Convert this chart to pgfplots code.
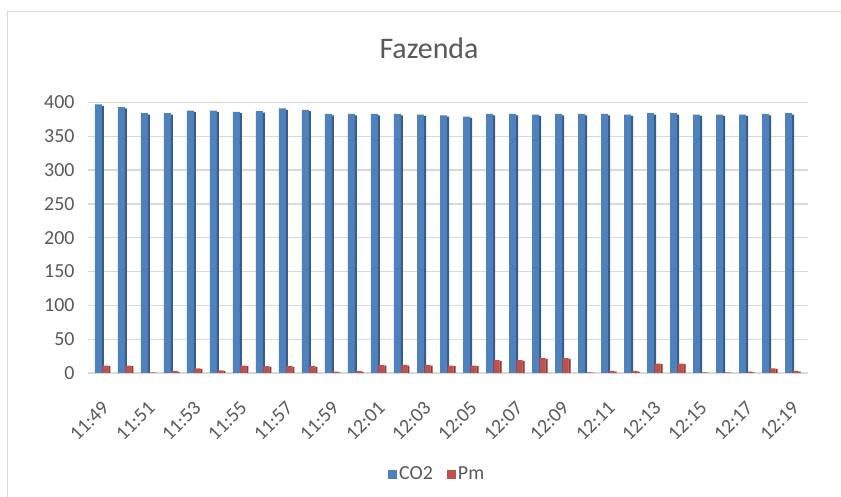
\documentclass[border=0pt]{standalone}
\usepackage{fontspec}
\setmainfont{Carlito}
\usepackage{pgfplots}
\pgfplotsset{compat=1.18}
\definecolor{cblue}{HTML}{4F81BD}
\definecolor{cblued}{HTML}{385D8A}
\definecolor{cred}{HTML}{C0504D}
\definecolor{credd}{HTML}{8C3836}
\definecolor{gridc}{HTML}{D9D9D9}
\definecolor{txt}{HTML}{595959}
\begin{document}
\begin{tikzpicture}
\useasboundingbox (0,0) rectangle (841bp,497bp);
\draw[gridc, line width=1.5bp] (7.5bp,-5bp) -- (7.5bp,485.5bp) -- (850bp,485.5bp);
\node[anchor=base, text=txt, font=\fontsize{30}{35}\selectfont] at (429bp,438.5bp) {Fazenda};
\begin{axis}[
  at={(88bp,124bp)}, anchor=south west,
  scale only axis, width=720bp, height=270.6bp,
  xmin=-0.65, xmax=30.65, ymin=0, ymax=400,
  ytick={0,50,...,400},
  xtick={0,2,...,30},
  xticklabels={11:49,11:51,11:53,11:55,11:57,11:59,12:01,12:03,12:05,12:07,12:09,12:11,12:13,12:15,12:17,12:19},
  ymajorgrids, grid style={gridc, line width=1.3bp},
  axis line style={draw=none}, tick style={draw=none},
  ticklabel style={text=txt, font=\fontsize{20}{23}\selectfont},
  /pgf/number format/assume math mode=true,
  yticklabel style={xshift=-10bp},
  xticklabel style={xshift=5bp, yshift=-25bp, rotate=45, anchor=east},
  ybar,
  legend style={at={(0.485,-0.374)}, anchor=center, draw=none, legend columns=2,
    font=\fontsize{20}{23}\selectfont, text=txt,
    /tikz/every even column/.append style={column sep=12bp}},
  legend image code/.code={\fill[#1] (0bp,-4.5bp) rectangle (9bp,4.5bp);},
]
\addplot[ybar, bar width=7bp, bar shift=-4.5bp, fill=cblue, draw=none] coordinates {
(0,397) (1,393) (2,384) (3,384) (4,388) (5,388) (6,386) (7,387) (8,391) (9,389)
(10,383) (11,383) (12,383) (13,383) (14,382) (15,381) (16,379) (17,383) (18,383) (19,382)
(20,383) (21,383) (22,383) (23,382) (24,384) (25,384) (26,382) (27,382) (28,382) (29,383) (30,384)};
\addlegendentry{CO2}
\addplot[ybar, forget plot, bar width=2bp, bar shift=0bp, fill=cblued, draw=none] coordinates {
(0,395) (1,391) (2,382) (3,382) (4,386) (5,386) (6,384) (7,385) (8,389) (9,387)
(10,381) (11,381) (12,381) (13,381) (14,380) (15,379) (16,377) (17,381) (18,381) (19,380)
(20,381) (21,381) (22,381) (23,380) (24,382) (25,382) (26,380) (27,380) (28,380) (29,381) (30,382)};
\addplot[ybar, bar width=6bp, bar shift=2.5bp, fill=cred, draw=none] coordinates {
(0,11) (1,11) (2,1) (3,3) (4,7) (5,4) (6,11) (7,10) (8,10) (9,10)
(10,2) (11,3) (12,12) (13,12) (14,12) (15,11) (16,11) (17,19) (18,19) (19,22)
(20,22) (21,0.8) (22,3) (23,3) (24,14) (25,14) (26,1) (27,1) (28,2) (29,7) (30,3)};
\addlegendentry{Pm}
\addplot[ybar, forget plot, bar width=2bp, bar shift=6.5bp, fill=credd, draw=none] coordinates {
(0,10) (1,10) (2,0.5) (3,2) (4,6) (5,3) (6,10) (7,9) (8,9) (9,9)
(10,1) (11,2) (12,11) (13,11) (14,11) (15,10) (16,10) (17,18) (18,18) (19,21)
(20,21) (21,0.5) (22,2) (23,2) (24,13) (25,13) (26,0.5) (27,0.5) (28,1) (29,6) (30,2)};
\end{axis}
\end{tikzpicture}
\end{document}
